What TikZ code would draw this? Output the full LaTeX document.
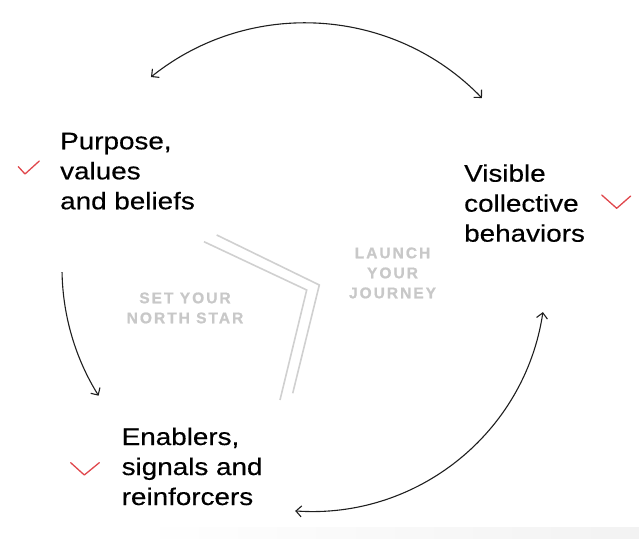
\documentclass[tikz,border=0pt]{standalone}
\usepackage{fontspec}
\setmainfont{Liberation Sans}
\newfontfamily\mainlab[FakeStretch=1.16,FakeBold=0.4]{Liberation Sans}
\newfontfamily\graylab[LetterSpace=13,FakeBold=1]{Liberation Sans}
\usetikzlibrary{arrows.meta,calc}
\definecolor{chk}{HTML}{E0474C}
\definecolor{lgray}{HTML}{C8C8C8}
\definecolor{ink}{HTML}{1E1E1E}
\tikzset{
  lab/.style={anchor=base west, align=left, inner sep=0pt, text=black,
    font=\mainlab\fontsize{24}{30}\selectfont},
  stage/.style={anchor=base, align=center, inner sep=0pt, text=lgray,
    font=\graylab\bfseries\fontsize{15.5}{20}\selectfont},
  cyc/.style={draw=ink, line width=1.1pt},
  both/.style={cyc, {Straight Barb[length=5.5pt,width=11pt]}-{Straight Barb[length=5.5pt,width=11pt]}},
  endonly/.style={cyc, -{Straight Barb[length=5.5pt,width=11pt]}},
  tick/.style={draw=chk, line width=1.3pt, line cap=round, line join=round},
  rail/.style={draw=lgray!85, line width=1.6pt}
}
\begin{document}
\begin{tikzpicture}[x=1pt,y=1pt]
\useasboundingbox (0,0) rectangle (639,538);
\shade[left color=white, right color=black!5] (140,0) rectangle (639,11);

% gray rails
\draw[rail] (204,296.3) -- (306.7,248) -- (280,138);
\draw[rail] (216.7,303) -- (319.3,253) -- (292.7,144.7);

% stage labels (anchor = baseline of last line)
\node[stage] (sns) at (185,214.7) {SET YOUR\\NORTH STAR};
\node[stage] (lyj) at (392.5,239.7) {LAUNCH\\YOUR\\JOURNEY};

% main labels (anchor = baseline of last line)
\node[lab] (pvb) at (60,328.7) {Purpose,\\values\\and beliefs};
\node[lab] (vcb) at (464,296.3) {Visible\\collective\\behaviors};
\node[lab] (esr) at (121.5,33) {Enablers,\\signals and\\reinforcers};

% cycle arrows
\coordinate (ca) at (304.9,268.6);
\coordinate (topL) at ($(ca)+(128.66:246.4)$);
\draw[both] (topL) arc[start angle=128.66, end angle=44.06, radius=246.4];

\coordinate (cb) at (303,270);
\coordinate (leftT) at ($(cb)+(181:241)$);
\draw[endonly] (leftT) arc[start angle=181, end angle=212, radius=241];

\coordinate (cc) at (311.5,260.5);
\coordinate (botL) at ($(cc)+(266:234)$);
\draw[both] (botL) arc[start angle=266, end angle=351.5, radius=234];

% red ticks
\draw[tick] (18.3,371.3) -- (25,364) -- (39.3,377);
\draw[tick] (601.7,343) -- (616.7,329.7) -- (630.7,342);
\draw[tick] (70.7,75.3) -- (84.3,63) -- (99.3,75.3);
\end{tikzpicture}
\end{document}
